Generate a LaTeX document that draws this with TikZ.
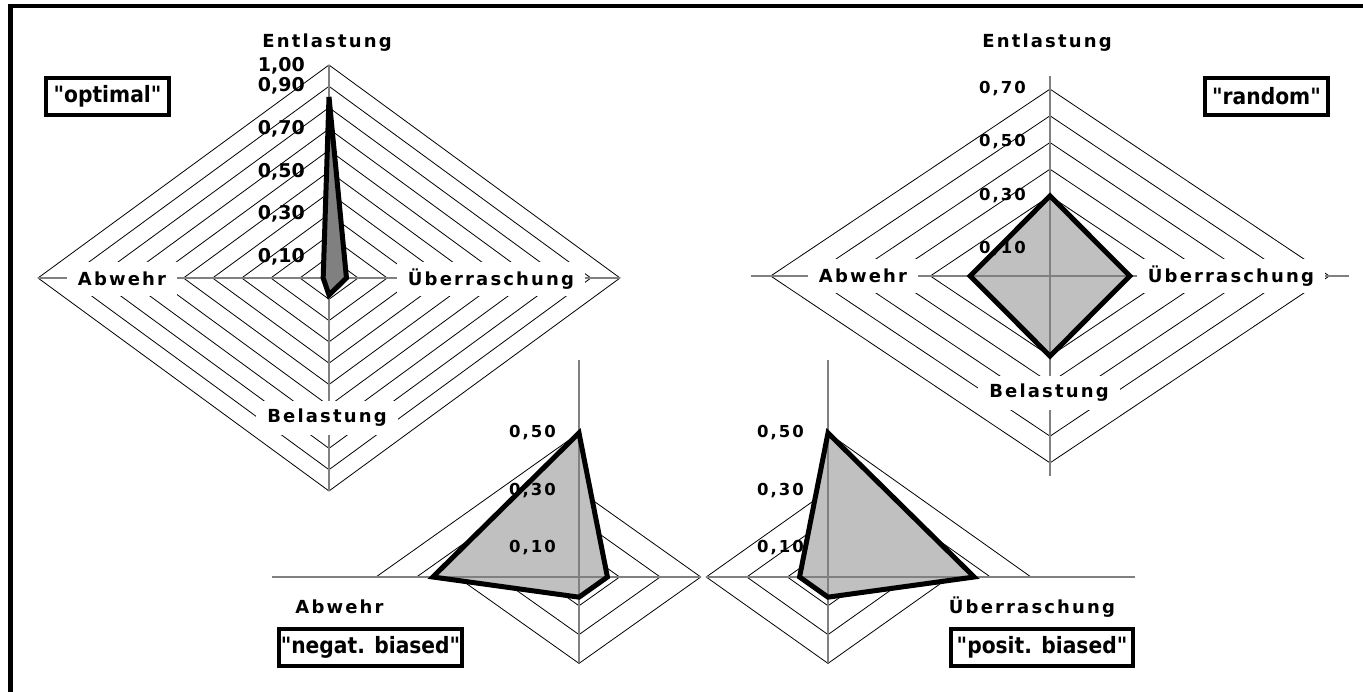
\documentclass[tikz,border=0pt]{standalone}
\usepackage{fontspec}
\setmainfont{DejaVu Sans}
\newfontfamily\spacedfont{DejaVu Sans}[LetterSpace=12]
\newfontfamily\boxfont{DejaVuSansCondensed-Bold.ttf}
\definecolor{axisgray}{RGB}{128,128,128}
\definecolor{shadegray}{RGB}{192,192,192}
\definecolor{darkshade}{RGB}{128,128,128}

\begin{document}
\begin{tikzpicture}[x=1pt,y=-1pt,
    ring/.style={black,line width=0.8pt},
    spoke/.style={axisgray,line width=1.4pt},
    outline/.style={black,line width=5pt},
    axislabel/.style={fill=white,inner xsep=11pt,inner ysep=0pt,minimum height=34pt,
        font=\spacedfont\bfseries\fontsize{18}{18}\selectfont},
    vallabel/.style={anchor=east,inner sep=0pt,font=\spacedfont\bfseries\fontsize{16.5}{16.5}\selectfont},
    bigval/.style={anchor=east,inner sep=0pt,font=\bfseries\fontsize{19}{19}\selectfont},
    boxlabel/.style={draw,line width=4pt,fill=white,minimum height=37pt,inner sep=0pt,
        font=\boxfont\fontsize{22.5}{22.5}\selectfont}]
  \useasboundingbox (0,0) rectangle (1363,692);
  \draw[line width=4.3pt] (10.5,692) -- (10.5,6) -- (1363,6);

  \begin{scope}[xshift=329pt,yshift=-278pt,x=291pt,y=-213pt]
    \foreach \i in {1,...,10}
      \draw[ring] ({-\i/10},0) -- (0,{-\i/10}) -- ({\i/10},0) -- (0,{\i/10}) -- cycle;
    \fill[darkshade] (0,-0.85) -- (0.06,0) -- (0,0.08) -- (-0.02,0) -- cycle;
    \draw[spoke] (-1,0) -- (1,0) (0,-1) -- (0,1);
    \draw[outline] (0,-0.85) -- (0.06,0) -- (0,0.08) -- (-0.02,0) -- cycle;
  \end{scope}

  \begin{scope}[xshift=1050pt,yshift=-276pt,x=399pt,y=-267pt]
    \foreach \i in {1,...,7}
      \draw[ring] ({-\i/10},0) -- (0,{-\i/10}) -- ({\i/10},0) -- (0,{\i/10}) -- cycle;
    \fill[shadegray] (0,-0.3) -- (0.2,0) -- (0,0.3) -- (-0.2,0) -- cycle;
    \draw[spoke] (-0.75,0) -- (0.75,0) (0,-0.75) -- (0,0.75);
    \draw[outline] (0,-0.3) -- (0.2,0) -- (0,0.3) -- (-0.2,0) -- cycle;
  \end{scope}

  \begin{scope}[xshift=579pt,yshift=-577pt,x=406pt,y=-288pt]
    \foreach \i in {1,...,3}
      \draw[ring] ({-\i/10},0) -- (0,{-\i/10}) -- ({\i/10},0) -- (0,{\i/10}) -- cycle;
    \foreach \i in {4,5}
      \draw[ring] ({-\i/10},0) -- (0,{-\i/10});
    \fill[shadegray] (0,-0.5) -- (0.07,0) -- (0,0.07) -- (-0.36,0) -- cycle;
    \draw[spoke] (-0.755,0) -- (0.3,0) (0,-0.755) -- (0,0.3);
    \draw[outline] (0,-0.5) -- (0.07,0) -- (0,0.07) -- (-0.36,0) -- cycle;
  \end{scope}

  \begin{scope}[xshift=828pt,yshift=-577pt,x=406pt,y=-288pt]
    \foreach \i in {1,...,3}
      \draw[ring] ({-\i/10},0) -- (0,{-\i/10}) -- ({\i/10},0) -- (0,{\i/10}) -- cycle;
    \foreach \i in {4,5}
      \draw[ring] ({\i/10},0) -- (0,{-\i/10});
    \fill[shadegray] (0,-0.5) -- (0.36,0) -- (0,0.07) -- (-0.07,0) -- cycle;
    \draw[spoke] (-0.3,0) -- (0.755,0) (0,-0.755) -- (0,0.3);
    \draw[outline] (0,-0.5) -- (0.36,0) -- (0,0.07) -- (-0.07,0) -- cycle;
  \end{scope}

  \node[axislabel] (tlent) at (327,43)  {Entlastung};
  \node[axislabel] (tlabw) at (122,279) {Abwehr};
  \node[axislabel] (tlueb) at (491,279) {Überraschung};
  \node[axislabel] (tlbel) at (327,418) {Belastung};

  \node[axislabel] (trent) at (1047,43)  {Entlastung};
  \node[axislabel] (trabw) at (863,276)  {Abwehr};
  \node[axislabel] (trueb) at (1231,276) {Überraschung};
  \node[axislabel] (trbel) at (1049,393) {Belastung};

  \node[axislabel] (blabw) at (339.5,607) {Abwehr};
  \node[axislabel] (brueb) at (1032,607)  {Überraschung};

  \node[bigval] (tlv100) at (305,66.0)  {1,00};
  \node[bigval] (tlv090) at (305,86.3)  {0,90};
  \node[bigval] (tlv070) at (305,128.9) {0,70};
  \node[bigval] (tlv050) at (305,171.5) {0,50};
  \node[bigval] (tlv030) at (305,214.1) {0,30};
  \node[bigval] (tlv010) at (305,256.7) {0,10};

  \node[vallabel] (trv070) at (1026,89)  {0,70};
  \node[vallabel] (trv050) at (1026,142) {0,50};
  \node[vallabel] (trv030) at (1026,196) {0,30};
  \node[vallabel] (trv010) at (1026,249) {0,10};

  \node[vallabel] (blv050) at (556,433) {0,50};
  \node[vallabel] (blv030) at (556,491) {0,30};
  \node[vallabel] (blv010) at (556,548) {0,10};

  \node[vallabel] (brv050) at (804,433) {0,50};
  \node[vallabel] (brv030) at (804,491) {0,30};
  \node[vallabel] (brv010) at (804,548) {0,10};

  \node[boxlabel,minimum width=123pt] (optimal) at (107.5,96.5) {"optimal"};
  \node[boxlabel,minimum width=123pt] (random)  at (1266.5,96.5) {"random"};
  \node[boxlabel,minimum width=183pt] (negat)   at (370.5,647) {"negat. biased"};
  \node[boxlabel,minimum width=182pt] (posit)   at (1042,647) {"posit. biased"};
\end{tikzpicture}
\end{document}
